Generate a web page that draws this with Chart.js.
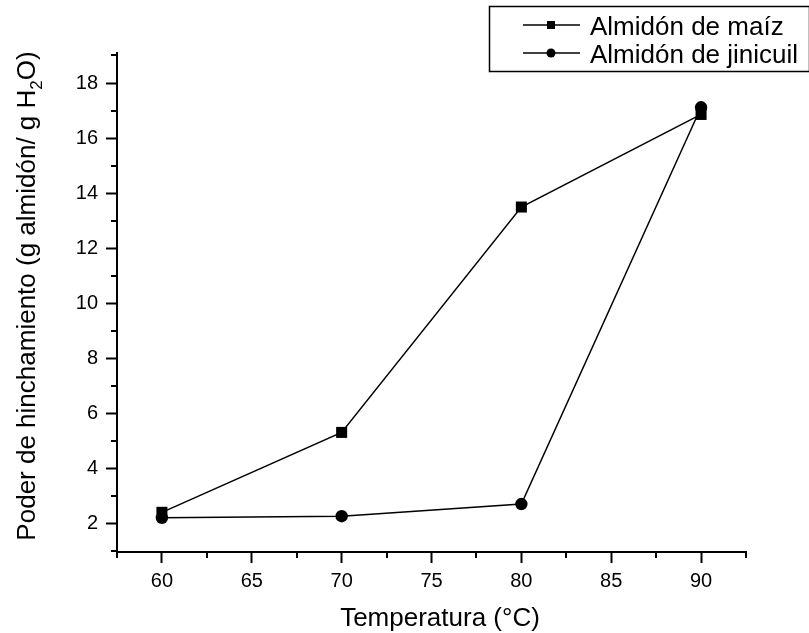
<html>
<head>
<meta charset="utf-8">
<script src="https://cdn.jsdelivr.net/npm/chart.js@4.4.0/dist/chart.umd.min.js"></script>
<style>
  body { margin: 0; background: #fff; }
  .chart-box { width: 809px; height: 633px; position: relative; }
</style>
</head>
<body>
<div class="chart-box">
  <canvas id="swellingChart"></canvas>
</div>
<script>
  // data
  const temperaturas = [60, 70, 80, 90];
  const almidonMaiz = [2.42, 5.32, 13.5, 16.86];
  const almidonJinicuil = [2.22, 2.28, 2.72, 17.12];
  const xTicks = [60, 65, 70, 75, 80, 85, 90];
  const yTicks = [2, 4, 6, 8, 10, 12, 14, 16, 18];
  const xMinorTicks = [57.5, 62.5, 67.5, 72.5, 77.5, 82.5, 87.5, 92.5];
  const yMinorTicks = [1, 3, 5, 7, 9, 11, 13, 15, 17, 19];
  const seriesNames = ["Almidón de maíz", "Almidón de jinicuil"];
  const xTitle = "Temperatura (°C)";
  const yTitleParts = ["Poder de hinchamiento (g almidón/ g H", "2", "O)"];

  const fontFamily = "'Liberation Sans', Arial, sans-serif";

  function toPoints(xs, ys) {
    return xs.map((x, i) => ({ x: x, y: ys[i] }));
  }

  // minor ticks, axis titles and the boxed legend
  const extrasPlugin = {
    id: "extras",
    afterDraw(chart) {
      const ctx = chart.ctx;
      const xs = chart.scales.x;
      const ys = chart.scales.y;
      const area = chart.chartArea;
      ctx.save();
      ctx.strokeStyle = "#000";
      ctx.lineWidth = 2;
      ctx.beginPath();
      xMinorTicks.forEach(v => {
        const px = Math.round(xs.getPixelForValue(v));
        ctx.moveTo(px, area.bottom);
        ctx.lineTo(px, area.bottom + 6);
      });
      yMinorTicks.forEach(v => {
        const py = Math.round(ys.getPixelForValue(v));
        ctx.moveTo(area.left, py);
        ctx.lineTo(area.left - 6, py);
      });
      ctx.stroke();

      // x title
      ctx.fillStyle = "#000";
      ctx.font = "26px " + fontFamily;
      ctx.textAlign = "center";
      ctx.textBaseline = "alphabetic";
      ctx.fillText(xTitle, 440, 626);

      // y title with subscript
      ctx.save();
      ctx.translate(35, 296);
      ctx.rotate(-Math.PI / 2);
      const big = "26px " + fontFamily;
      const small = "17px " + fontFamily;
      ctx.font = big;
      const w0 = ctx.measureText(yTitleParts[0]).width;
      const w2 = ctx.measureText(yTitleParts[2]).width;
      ctx.font = small;
      const w1 = ctx.measureText(yTitleParts[1]).width;
      let x = -(w0 + w1 + w2) / 2;
      ctx.textAlign = "left";
      ctx.font = big;
      ctx.fillText(yTitleParts[0], x, 0);
      x += w0;
      ctx.font = small;
      ctx.fillText(yTitleParts[1], x, 7);
      x += w1;
      ctx.font = big;
      ctx.fillText(yTitleParts[2], x, 0);
      ctx.restore();

      // legend
      ctx.lineWidth = 1.5;
      ctx.strokeRect(489.5, 6.5, 320, 65);
      const rows = [25, 53];
      rows.forEach((ry, i) => {
        ctx.lineWidth = 1.5;
        ctx.beginPath();
        ctx.moveTo(523, ry);
        ctx.lineTo(580, ry);
        ctx.stroke();
        ctx.beginPath();
        if (i === 0) {
          ctx.rect(547, ry - 4, 8, 8);
        } else {
          ctx.arc(551, ry, 4.5, 0, Math.PI * 2);
        }
        ctx.fill();
        ctx.font = "26px " + fontFamily;
        ctx.textAlign = "left";
        ctx.textBaseline = "alphabetic";
        ctx.fillText(seriesNames[i], 590, ry + 10);
      });
      ctx.restore();
    }
  };

  const ctx = document.getElementById("swellingChart").getContext("2d");
  new Chart(ctx, {
    type: "line",
    data: {
      datasets: [
        {
          label: seriesNames[0],
          data: toPoints(temperaturas, almidonMaiz),
          borderColor: "#000",
          backgroundColor: "#000",
          borderWidth: 1.5,
          pointStyle: "rect",
          pointRadius: 7.8,
          pointBorderWidth: 0,
          tension: 0
        },
        {
          label: seriesNames[1],
          data: toPoints(temperaturas, almidonJinicuil),
          borderColor: "#000",
          backgroundColor: "#000",
          borderWidth: 1.5,
          pointStyle: "circle",
          pointRadius: 6.2,
          pointBorderWidth: 0,
          tension: 0
        }
      ]
    },
    options: {
      responsive: true,
      maintainAspectRatio: false,
      animation: false,
      layout: { padding: { top: 53, right: 63, left: 0, bottom: 0 } },
      plugins: {
        legend: { display: false },
        tooltip: { enabled: false }
      },
      scales: {
        x: {
          type: "linear",
          min: 57.5,
          max: 92.5,
          afterBuildTicks: scale => { scale.ticks = xTicks.map(v => ({ value: v })); },
          afterFit: scale => { scale.height = 81; },
          grid: { drawOnChartArea: false, tickLength: 11, tickWidth: 2, tickColor: "#000" },
          border: { color: "#000", width: 2 },
          ticks: { color: "#000", padding: 6, font: { family: fontFamily, size: 20 }, maxRotation: 0 }
        },
        y: {
          min: 0.98,
          max: 19.09,
          afterBuildTicks: scale => { scale.ticks = yTicks.map(v => ({ value: v })); },
          afterFit: scale => { scale.width = 117; },
          grid: { drawOnChartArea: false, tickLength: 11, tickWidth: 2, tickColor: "#000" },
          border: { color: "#000", width: 2 },
          ticks: { color: "#000", padding: 8, font: { family: fontFamily, size: 20 } }
        }
      }
    },
    plugins: [extrasPlugin]
  });
</script>
</body>
</html>
